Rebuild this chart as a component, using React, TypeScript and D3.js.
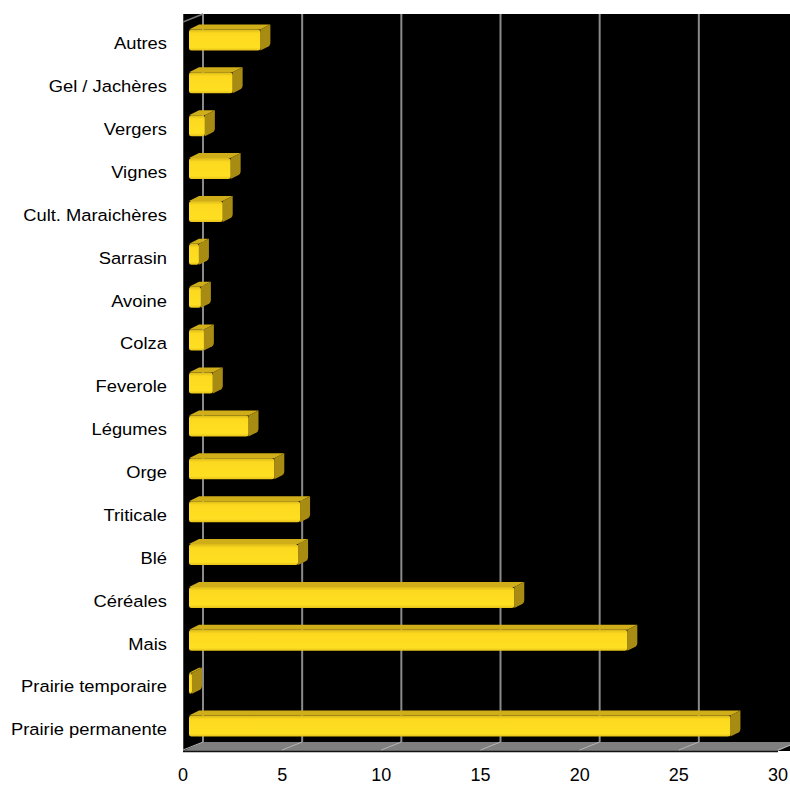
import React from "react";
import * as d3 from "d3";

const categories = [
  "Autres",
  "Gel / Jachères",
  "Vergers",
  "Vignes",
  "Cult. Maraichères",
  "Sarrasin",
  "Avoine",
  "Colza",
  "Feverole",
  "Légumes",
  "Orge",
  "Triticale",
  "Blé",
  "Céréales",
  "Mais",
  "Prairie temporaire",
  "Prairie permanente",
];

const values = [3.6, 2.2, 0.8, 2.1, 1.7, 0.5, 0.6, 0.75, 1.2, 3.0, 4.3, 5.6, 5.5, 16.4, 22.1, 0.15, 27.3];

const xTicks = [0, 5, 10, 15, 20, 25, 30];

const W = 790;
const H = 787;
// plot box (front plane) and 3D depth offset
const left = 183;
const right = 778;
const top = 14;
const floorFront = 751;
const depthX = 20;
const depthY = -9;
const barDepth = 0.3; // bar position inside the depth
const sideX = 10;
const sideY = -5;

export default function App() {
  const x = d3.scaleLinear().domain([0, 30]).range([left, right]);
  const y = d3.scaleBand<string>().domain(categories).range([22, floorFront]);

  const bx = (v: number) => x(v) + depthX * barDepth;
  const floorBack = floorFront + depthY;

  return (
    <svg
      width={W}
      height={H}
      style={{ position: "absolute", left: 0, top: 0, background: "#fff" }}
      fontFamily="Liberation Sans, Arial, sans-serif"
    >
      <defs>
        <linearGradient id="barFront" x1="0" y1="0" x2="0" y2="1">
          <stop offset="0" stopColor="#d9b81a" />
          <stop offset="0.18" stopColor="#fcd91f" />
          <stop offset="0.85" stopColor="#ffdf22" />
          <stop offset="1" stopColor="#e6c21a" />
        </linearGradient>
      </defs>

      {/* walls */}
      <rect x={left} y={top} width={W - left + 10} height={floorFront - top} fill="#000" />

      {/* floor */}
      <path
        d={`M${x(0)},${floorFront} L${x(30)},${floorFront} L${x(30) + depthX},${floorBack} L${x(0) + depthX},${floorBack} Z`}
        fill="#7f7f7f"
      />
      <line x1={left} x2={x(30)} y1={floorFront + 0.5} y2={floorFront + 0.5} stroke="#111" strokeWidth={1.5} />
      <line x1={left + 0.5} x2={left + 0.5} y1={top} y2={floorFront} stroke="#444" strokeWidth={1} />
      <line x1={left} y1={top + 8} x2={left + depthX} y2={top} stroke="#777" strokeWidth={1.5} />

      {/* gridlines on back wall and floor */}
      {xTicks.map((t) => (
        <g key={t}>
          <line
            x1={x(t) + depthX}
            x2={x(t) + depthX}
            y1={top}
            y2={floorBack}
            stroke="#8a8a8a"
            strokeWidth={2}
          />
          <line
            x1={x(t)}
            y1={floorFront - 1}
            x2={x(t) + depthX}
            y2={floorBack}
            stroke="#b5b5b5"
            strokeWidth={1}
          />
        </g>
      ))}

      {/* bars */}
      {categories.map((c, i) => {
        const cy = (y(c) as number) + y.bandwidth() / 2;
        const x0 = bx(0);
        const x1 = bx(values[i]);
        const yt = cy - 14;
        const yb = cy + 7;
        return (
          <g key={c}>
            <path
              d={`M${x0},${yt} L${x1},${yt} L${x1 + sideX},${yt + sideY} L${x0 + sideX},${yt + sideY} Z`}
              fill="#cfae1a"
            />
            <path
              d={`M${x1},${yt} L${x1 + sideX},${yt + sideY} L${x1 + sideX},${yb + sideY - 3} Q${x1 + sideX},${yb + sideY} ${x1 + sideX - 3},${yb + sideY + 1.5} L${x1},${yb} Z`}
              fill="#a88b12"
            />
            <rect x={x0} y={yt} width={Math.max(0, x1 - x0)} height={yb - yt} fill="url(#barFront)" rx={2.5} />
          </g>
        );
      })}

      {/* category labels */}
      {categories.map((c) => (
        <text
          key={c}
          transform={`translate(${167},${(y(c) as number) + y.bandwidth() / 2}) scale(1.08,1)`}
          textAnchor="end"
          dominantBaseline="central"
          fontSize={17}
          fill="#000"
        >
          {c}
        </text>
      ))}

      {/* x tick labels */}
      {xTicks.map((t) => (
        <text key={t} x={x(t)} y={781} textAnchor="middle" fontSize={18} fill="#000">
          {t}
        </text>
      ))}
    </svg>
  );
}
